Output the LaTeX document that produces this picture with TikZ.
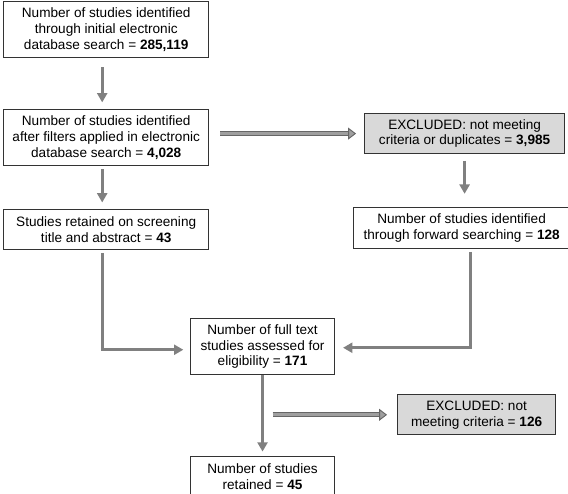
\documentclass[tikz,border=0pt]{standalone}
\usepackage{fontspec}
\setmainfont{Liberation Sans}
\usetikzlibrary{arrows.meta, positioning}

\begin{document}
\begin{tikzpicture}[
    % Estilos globales
    base/.style = {draw=black!80, line width=0.8pt, align=center, inner sep=2pt, font=\fontsize{10.2}{11.8}\selectfont},
    caja/.style = {base, rectangle, fill=white},
    excluido/.style = {base, rectangle, fill=gray!30},
    flecha/.style = {draw=gray, line width=2.4pt, -{Triangle[length=7pt, width=7.5pt]}},
    flecha_doble/.style = {draw=black!60, double=gray!75, double distance=2.4pt, line width=0.7pt, -{Triangle[open, length=6pt, width=9pt, fill=gray!75]}}
]
\useasboundingbox (0,0) rectangle (426pt,-369.75pt);

% ===============================
% 1. Busqueda inicial
% ===============================
\node (inicial) [caja, anchor=north west, minimum width=154pt, minimum height=42pt] at (2.25pt,-0.75pt) {Number of studies identified\\ through initial electronic\\ database search = \textbf{285,119}};
\node (filtros) [caja, below=38.25pt of inicial, minimum width=154pt, minimum height=42pt] {Number of studies identified\\ after filters applied in electronic\\ database search = \textbf{4,028}};
\node (cribado) [caja, below=32.25pt of filtros, minimum width=154pt, minimum height=30pt] {Studies retained on screening\\ title and abstract = \textbf{43}};

% ===============================
% 2. Exclusiones y forward searching
% ===============================
\node (excl1) [excluido, right=116pt of filtros, yshift=3pt, minimum width=150pt, minimum height=30pt] {EXCLUDED: not meeting\\ criteria or duplicates = \textbf{3,985}};
\node (forward) [caja, below=39.75pt of excl1, xshift=-2.25pt, minimum width=161.5pt, minimum height=30.75pt] {Number of studies identified\\ through forward searching = \textbf{128}};

% ===============================
% 3. Texto completo y resultado
% ===============================
\node (texto) [caja, below=51pt of cribado, xshift=117.25pt, minimum width=108pt, minimum height=42pt] {Number of full text\\ studies assessed for\\ eligibility = \textbf{171}};
\node (excl2) [excluido, below right=14.25pt and 46.5pt of texto, minimum width=118.5pt, minimum height=30pt] {EXCLUDED: not\\ meeting criteria = \textbf{126}};
\node (final) [caja, below=60.75pt of texto, minimum width=108pt, minimum height=30pt] {Number of studies\\ retained = \textbf{45}};

% ===============================
% 4. Trazado de flechas
% ===============================
\draw [flecha, shorten <=7pt, shorten >=5pt] ([xshift=-3pt]inicial.south) -- ([xshift=-3pt]filtros.north);
\draw [flecha, shorten <=2.5pt, shorten >=5pt] ([xshift=-3pt]filtros.south) -- ([xshift=-3pt]cribado.north);
\draw [flecha_doble, shorten <=8pt, shorten >=6pt] (filtros.east |- excl1.west) -- (excl1.west);
\draw [flecha, shorten <=5pt, shorten >=10pt] (excl1.south) -- (excl1.south |- forward.north);

\draw [flecha, shorten <=2pt, shorten >=5pt] ([xshift=-3pt]cribado.south) |- ([yshift=-2.25pt]texto.west);
\draw [flecha, shorten <=2pt, shorten >=6pt] ([xshift=6.75pt]forward.south) |- ([yshift=-0.75pt]texto.east);
\draw [flecha, shorten >=3.5pt] (texto.south) -- (final.north);

\coordinate (rama) at ([xshift=7.5pt]texto.south |- excl2.west);
\draw [flecha_doble, shorten >=7.5pt] (rama) -- (excl2.west);

\end{tikzpicture}
\end{document}
